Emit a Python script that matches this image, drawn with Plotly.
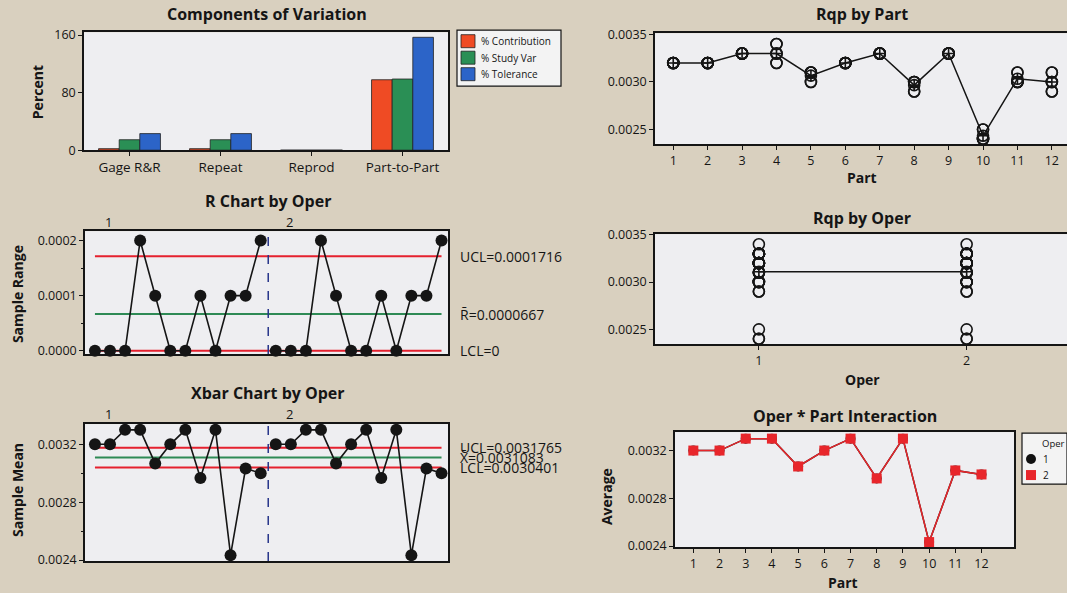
import numpy as np
import plotly.graph_objects as go

# The page is captured 609 px tall (with 8 px above the figure) and shown at 593 px,
# so vertical positions read off the reference are mapped through SY and TOP below.
PAGE_W, SHOT_H, CAP_H, TOP = 1067, 593, 609, 8
FW, FH = PAGE_W, CAP_H - TOP
SY = CAP_H / SHOT_H
FONT = "Open Sans"
BG = "#D9D0BF"
PLOT_BG = "#EEEEF1"
INK = "#151515"

# ---------------- data ----------------
components = ["Gage R&R", "Repeat", "Reprod", "Part-to-Part"]
pct_contribution = [2.1, 2.1, 0.0, 97.9]
pct_study_var = [14.5, 14.5, 0.0, 98.9]
pct_tolerance = [23.0, 23.0, 0.0, 156.9]
series_names = ["% Contribution", "% Study Var", "% Tolerance"]
series_colors = ["#EF4B24", "#2A8F55", "#2C64C8"]

parts = list(range(1, 13))
operators = [1, 2]
oper1_meas = [
    [0.0032, 0.0032, 0.0032], [0.0032, 0.0032, 0.0032], [0.0033, 0.0033, 0.0033],
    [0.0034, 0.0033, 0.0032], [0.0031, 0.0031, 0.0030], [0.0032, 0.0032, 0.0032],
    [0.0033, 0.0033, 0.0033], [0.0030, 0.0030, 0.0029], [0.0033, 0.0033, 0.0033],
    [0.0024, 0.0024, 0.0025], [0.0030, 0.0030, 0.0031], [0.0029, 0.0030, 0.0031],
]
oper2_meas = [
    [0.0032, 0.0032, 0.0032], [0.0032, 0.0032, 0.0032], [0.0033, 0.0033, 0.0033],
    [0.0034, 0.0033, 0.0032], [0.0031, 0.0031, 0.0030], [0.0032, 0.0032, 0.0032],
    [0.0033, 0.0033, 0.0033], [0.0030, 0.0030, 0.0029], [0.0033, 0.0033, 0.0033],
    [0.0024, 0.0024, 0.0025], [0.0030, 0.0030, 0.0031], [0.0029, 0.0030, 0.0031],
]
oper_colors = ["#111111", "#E8262B"]
D4, A2 = 2.574, 1.023  # control-chart constants, subgroup size 3

# ---------------- derived ----------------
meas = {1: np.array(oper1_meas), 2: np.array(oper2_meas)}
means = {o: meas[o].mean(axis=1) for o in operators}
ranges = {o: meas[o].max(axis=1) - meas[o].min(axis=1) for o in operators}
rbar = float(np.mean(np.concatenate([ranges[o] for o in operators])))
xbarbar = float(np.mean(np.concatenate([means[o] for o in operators])))
r_ucl, r_lcl = D4 * rbar, 0.0
x_ucl, x_lcl = xbarbar + A2 * rbar, xbarbar - A2 * rbar
n_parts = len(parts)
idx = {o: [k * n_parts + p for p in parts] for k, o in enumerate(operators)}
all_idx = idx[1] + idx[2]


def dx(px):
    return min(1.0, px / FW)


def dy(py):
    return 1 - (py * SY - TOP) / FH


fig = go.Figure()

# Components of Variation
for name, vals, col in zip(series_names, [pct_contribution, pct_study_var, pct_tolerance], series_colors):
    fig.add_trace(go.Bar(x=components, y=vals, name=name, marker=dict(color=col, line=dict(color="#222", width=0.8)),
                         xaxis="x", yaxis="y"))

# Rqp by Part
part_x, part_y = [], []
for o in operators:
    for i, p in enumerate(parts):
        for v in meas[o][i]:
            part_x.append(p)
            part_y.append(v)
part_means = [float(np.mean(np.concatenate([meas[o][i] for o in operators]))) for i in range(n_parts)]
fig.add_trace(go.Scatter(x=part_x, y=part_y, mode="markers", xaxis="x2", yaxis="y2", cliponaxis=False,
                         marker=dict(symbol="circle-open", size=11, color=INK, line=dict(width=1.6))))
fig.add_trace(go.Scatter(x=parts, y=part_means, mode="lines+markers", xaxis="x2", yaxis="y2", cliponaxis=False,
                         line=dict(color=INK, width=1.5),
                         marker=dict(symbol="circle-cross-open", size=11, color=INK, line=dict(width=1.6))))

# R chart by Oper
for val, col in [(r_ucl, "#E5202E"), (rbar, "#2E8A55"), (r_lcl, "#E5202E")]:
    fig.add_trace(go.Scatter(x=[all_idx[0], all_idx[-1]], y=[val, val], mode="lines", xaxis="x3", yaxis="y3",
                             line=dict(color=col, width=2)))
r_x = idx[1] + [None] + idx[2]
r_y = list(ranges[1]) + [None] + list(ranges[2])
fig.add_trace(go.Scatter(x=r_x, y=r_y, mode="lines+markers", xaxis="x3", yaxis="y3", cliponaxis=False,
                         line=dict(color=INK, width=1.6), marker=dict(size=12, color=INK)))

# Rqp by Oper
oper_x, oper_y = [], []
for o in operators:
    for v in meas[o].ravel():
        oper_x.append(o)
        oper_y.append(v)
oper_means = [float(meas[o].mean()) for o in operators]
fig.add_trace(go.Scatter(x=oper_x, y=oper_y, mode="markers", xaxis="x4", yaxis="y4", cliponaxis=False,
                         marker=dict(symbol="circle-open", size=11, color=INK, line=dict(width=1.6))))
fig.add_trace(go.Scatter(x=operators, y=oper_means, mode="lines+markers", xaxis="x4", yaxis="y4",
                         line=dict(color=INK, width=1.5),
                         marker=dict(symbol="circle-cross-open", size=11, color=INK, line=dict(width=1.6))))

# Xbar chart by Oper
for val, col in [(x_ucl, "#E5202E"), (xbarbar, "#2E8A55"), (x_lcl, "#E5202E")]:
    fig.add_trace(go.Scatter(x=[all_idx[0], all_idx[-1]], y=[val, val], mode="lines", xaxis="x5", yaxis="y5",
                             line=dict(color=col, width=2)))
x_y = list(means[1]) + [None] + list(means[2])
fig.add_trace(go.Scatter(x=r_x, y=x_y, mode="lines+markers", xaxis="x5", yaxis="y5", cliponaxis=False,
                         line=dict(color=INK, width=1.6), marker=dict(size=12, color=INK)))

# Oper * Part Interaction
for o, col, sym in zip(operators, oper_colors, ["circle", "square"]):
    fig.add_trace(go.Scatter(x=parts, y=list(means[o]), mode="lines+markers", xaxis="x6", yaxis="y6",
                             cliponaxis=False, name=str(o), line=dict(color=col, width=1.5),
                             marker=dict(symbol=sym, size=10, color=col)))

TICKF = dict(size=12.5, color=INK, family=FONT)
ax = dict(showline=True, linecolor=INK, linewidth=1.6, ticks="outside", ticklen=4, tickwidth=1, tickcolor=INK,
          showgrid=False, zeroline=False, tickfont=TICKF)
minor = dict(ticks="outside", ticklen=2, tickcolor=INK, showgrid=False)

fig.update_layout(
    width=FW, height=FH, margin=dict(l=0, r=0, t=0, b=0),
    paper_bgcolor=BG, plot_bgcolor=PLOT_BG, showlegend=False,
    font=dict(family=FONT, color=INK),
    barmode="group", bargap=0.32, bargroupgap=0,
    xaxis=dict(ax, domain=[dx(84), dx(448)], anchor="y", type="category", range=[-0.5, 3.5], mirror=True,
               tickfont=dict(size=13.5, color=INK, family=FONT)),
    yaxis=dict(ax, domain=[dy(150), dy(32)], anchor="x", range=[0, 164], tickvals=[0, 80, 160], mirror=True),
    xaxis2=dict(ax, domain=[dx(655), dx(1067)], anchor="y2", range=[0.47, 12.44], tickvals=parts, mirror=True),
    yaxis2=dict(ax, domain=[dy(144), dy(33)], anchor="x2", range=[0.002345, 0.003514], tick0=0.0025,
                dtick=0.0005, tickformat=".4f"),
    xaxis3=dict(ax, domain=[dx(85), dx(448)], anchor="y3", range=[0.34, 24.43], showticklabels=False,
                ticks="", mirror=True),
    yaxis3=dict(ax, domain=[dy(354), dy(231)], anchor="x3", range=[-0.000006, 0.000217], tick0=0,
                dtick=0.0001, tickformat=".4f", mirror=True, minor=dict(minor, dtick=0.00005)),
    xaxis4=dict(ax, domain=[dx(655), dx(1067)], anchor="y4", range=[0.5, 2.483], tickvals=operators, mirror=True),
    yaxis4=dict(ax, domain=[dy(344), dy(234)], anchor="x4", range=[0.002344, 0.003507], tick0=0.0025,
                dtick=0.0005, tickformat=".4f"),
    xaxis5=dict(ax, domain=[dx(85), dx(448)], anchor="y5", range=[0.34, 24.43], showticklabels=False,
                ticks="", mirror=True),
    yaxis5=dict(ax, domain=[dy(561), dy(424)], anchor="x5", range=[0.002393, 0.00334], tick0=0.0024,
                dtick=0.0004, tickformat=".4f", mirror=True, minor=dict(minor, dtick=0.0002)),
    xaxis6=dict(ax, domain=[dx(675), dx(1014)], anchor="y6", range=[0.3, 13.24], tickvals=parts, mirror=True),
    yaxis6=dict(ax, domain=[dy(547), dy(432)], anchor="x6", range=[0.002392, 0.003355], tick0=0.0024,
                dtick=0.0004, tickformat=".4f", mirror=True),
)


def ann(text, x, y, size=11, bold=False, xanchor="center", angle=0):
    return dict(text=f"<b>{text}</b>" if bold else text, x=dx(x), y=dy(y), xref="paper", yref="paper",
                showarrow=False, xanchor=xanchor, yanchor="middle", textangle=angle,
                font=dict(size=size, color=INK, family=FONT))


annotations = [
    ann("Components of Variation", 267, 14, 16, True),
    ann("Rqp by Part", 862, 14, 16, True),
    ann("R Chart by Oper", 268, 201, 16, True),
    ann("Rqp by Oper", 862, 218, 16, True),
    ann("Xbar Chart by Oper", 268, 393, 16, True),
    ann("Oper * Part Interaction", 845, 416, 16, True),
    ann("Percent", 37, 92, 14, True, angle=-90),
    ann("Sample Range", 17, 294, 14, True, angle=-90),
    ann("Sample Mean", 17, 490, 14, True, angle=-90),
    ann("Average", 606, 497, 14, True, angle=-90),
    ann("Part", 862, 177, 14, True),
    ann("Oper", 862, 379, 14, True),
    ann("Part", 843, 582, 14, True),
]
# control limit labels
for text, val, yr in [(f"UCL={r_ucl:.7f}", r_ucl, "y3"), (f"R\u0304={rbar:.7f}", rbar, "y3"), ("LCL=0", r_lcl, "y3"),
                      (f"UCL={x_ucl:.7f}", x_ucl, "y5"), (f"X\u0304={xbarbar:.7f}", xbarbar, "y5"),
                      (f"LCL={x_lcl:.7f}", x_lcl, "y5")]:
    annotations.append(dict(text=text, x=dx(458), y=val, xref="paper", yref=yr, showarrow=False, xanchor="left",
                            yanchor="middle", font=dict(size=14, color=INK, family=FONT)))
# group labels above the by-operator charts
for xr, yy in [("x3", 222), ("x5", 414)]:
    for k, o in enumerate(operators):
        annotations.append(dict(text=str(o), x=idx[o][0] + 0.9, y=dy(yy), xref=xr, yref="paper", showarrow=False,
                                xanchor="center", yanchor="middle", font=dict(size=13, color=INK, family=FONT)))

shapes = []
# operator separators
for yr in ["y3", "y5"]:
    xr = "x3" if yr == "y3" else "x5"
    shapes.append(dict(type="line", xref=xr, yref=f"{yr} domain", x0=n_parts + 0.5, x1=n_parts + 0.5, y0=0, y1=1,
                       line=dict(color="#26358A", width=1.5, dash="dash")))

# components legend
shapes.append(dict(type="rect", xref="paper", yref="paper", x0=dx(457), x1=dx(561), y0=dy(30), y1=dy(86),
                   fillcolor="#F3F3F3", line=dict(color=INK, width=1.2)))
for k, (name, col) in enumerate(zip(series_names, series_colors)):
    cy = 41 + 16.5 * k
    shapes.append(dict(type="rect", xref="paper", yref="paper", x0=dx(461), x1=dx(475), y0=dy(cy + 6.5),
                       y1=dy(cy - 6.5), fillcolor=col, line=dict(color="#222", width=0.8)))
    annotations.append(ann(name, 479, cy, 10, False, xanchor="left"))

# interaction legend
shapes.append(dict(type="rect", xref="paper", yref="paper", x0=dx(1022), x1=dx(1075), y0=dy(484), y1=dy(433),
                   fillcolor="#F3F3F3", line=dict(color=INK, width=1.2)))
annotations.append(ann("Oper", 1040, 443, 9.5, False, xanchor="left"))
shapes.append(dict(type="circle", xref="paper", yref="paper", x0=dx(1026), x1=dx(1036), y0=dy(464), y1=dy(454),
                   fillcolor=oper_colors[0], line=dict(color=oper_colors[0], width=0)))
shapes.append(dict(type="rect", xref="paper", yref="paper", x0=dx(1026), x1=dx(1036), y0=dy(480), y1=dy(470),
                   fillcolor=oper_colors[1], line=dict(color=oper_colors[1], width=0)))
for k, o in enumerate(operators):
    annotations.append(ann(str(o), 1041, 459 + 16 * k, 10, False, xanchor="left"))

fig.update_layout(annotations=annotations, shapes=shapes)
fig.write_html(
    "out.html",
    config={"displayModeBar": False},
    post_script=(f"document.body.style.margin='0';document.body.style.overflow='hidden';"
                 f"document.documentElement.style.background='{BG}';document.body.style.background='{BG}';"),
)
